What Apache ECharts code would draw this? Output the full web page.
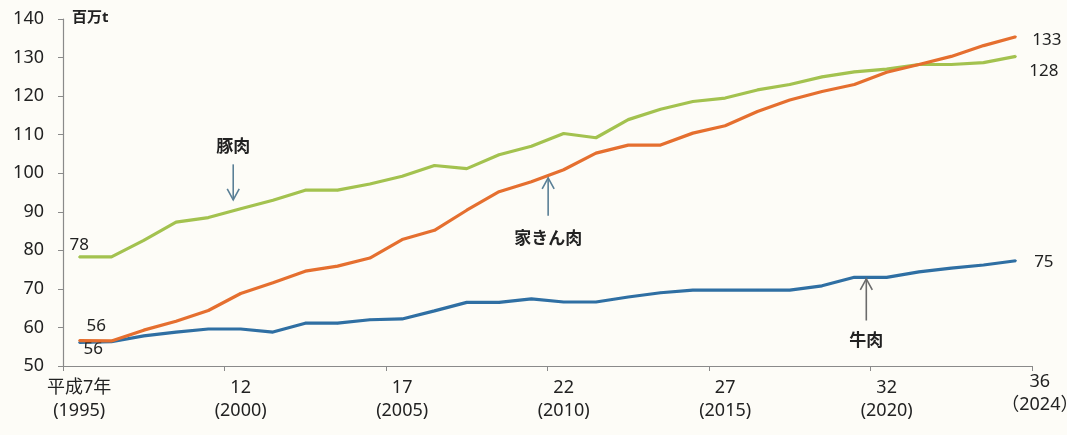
<!DOCTYPE html>
<html><head><meta charset="utf-8">
<script src="https://cdn.jsdelivr.net/npm/echarts@6/dist/echarts.min.js"></script>
<style>html,body{margin:0;padding:0;background:#fdfcf7}#c{width:1067px;height:435px}</style>
</head><body><div id="c"></div>
<script>
const years = ['1995','1996','1997','1998','1999','2000','2001','2002','2003','2004','2005','2006','2007','2008','2009','2010','2011','2012','2013','2014','2015','2016','2017','2018','2019','2020','2021','2022','2023','2024'];
const pork    = [78.3,78.3,82.6,87.3,88.5,90.8,93.0,95.6,95.6,97.2,99.2,102.0,101.2,104.8,107.0,110.3,109.2,113.9,116.6,118.6,119.5,121.6,123.0,125.0,126.3,127.0,128.2,128.2,128.7,130.3];
const poultry = [56.6,56.5,59.3,61.6,64.4,68.8,71.6,74.6,75.9,78.0,82.8,85.2,90.4,95.2,97.8,100.9,105.2,107.3,107.3,110.4,112.3,116.0,119.0,121.2,123.0,126.2,128.2,130.3,133.1,135.4];
const beef    = [56.1,56.3,57.8,58.8,59.6,59.6,58.8,61.1,61.1,62.0,62.2,64.3,66.5,66.5,67.4,66.6,66.6,67.9,69.0,69.7,69.7,69.7,69.7,70.8,73.0,73.0,74.4,75.4,76.2,77.3];
const seriesNames = ['豚肉','家きん肉','牛肉'];
const startLabels = ['78','56','56'];
const endLabels = ['128','133','75'];
const tickYears = ['1995','2000','2005','2010','2015','2020'];
const tickLabels = ['平成7年\n(1995)','12\n(2000)','17\n(2005)','22\n(2010)','27\n(2015)','32\n(2020)'];
const lastTickLabel = '36\n（2024）';
const yUnit = '百万t';
const yMin = 50, yMax = 140, yStep = 10;

const colors = ['#a3c24f','#e56f2f','#2f6fa3'];
const FONT = '"Noto Sans","Noto Sans CJK JP",sans-serif';
// label placement relative to the symbol box (pixels)
const startPos = [[1,-11],[18,-13],[15,8]];
const endPos = [[29,16],[32,4],[29,2]];
function mk(vals, si){
  return vals.map((v,i)=>{
    if(i===0) return {value:v, label:{show:true, formatter:startLabels[si], position:startPos[si], align:'center', verticalAlign:'middle'}};
    if(i===vals.length-1) return {value:v, label:{show:true, formatter:endLabels[si], position:endPos[si], align:'center', verticalAlign:'middle'}};
    return v;
  });
}
const chart = echarts.init(document.getElementById('c'));
const option = {
  backgroundColor:'#fdfcf7',
  animation:false,
  textStyle:{fontFamily:FONT},
  grid:{left:63, right:35, top:19, bottom:69},
  xAxis:{
    type:'category', data:years, boundaryGap:true,
    axisLine:{lineStyle:{color:'#8a8a8a', width:1.2}},
    axisTick:{show:true, length:5, interval:(i)=>i%5===0, lineStyle:{color:'#8a8a8a'}},
    axisLabel:{
      interval:(i,v)=>tickYears.indexOf(v)>=0,
      formatter:(v)=>{const k=tickYears.indexOf(v); return k>=0?tickLabels[k]:'';},
      color:'#222', fontSize:18, lineHeight:23, margin:10, fontFamily:FONT
    }
  },
  yAxis:{
    type:'value', min:yMin, max:yMax, interval:yStep,
    name:yUnit, nameLocation:'end', nameGap:1,
    nameTextStyle:{align:'left', verticalAlign:'middle', padding:[0,0,0,9], color:'#222', fontSize:15, fontWeight:'bold', fontFamily:FONT},
    axisLine:{show:true, lineStyle:{color:'#8a8a8a', width:1.2}},
    axisTick:{show:true, length:5, lineStyle:{color:'#8a8a8a'}},
    splitLine:{show:false},
    axisLabel:{color:'#222', fontSize:18, margin:19, fontFamily:FONT}
  },
  series:[pork,poultry,beef].map((d,si)=>({
    name:seriesNames[si], type:'line', data:mk(d,si),
    symbol:'circle', symbolSize:2, showSymbol:true, showAllSymbol:true,
    lineStyle:{color:colors[si], width:3.2}, itemStyle:{color:colors[si]},
    label:{show:false, color:'#222', fontSize:17, fontFamily:FONT},
    labelLayout:{hideOverlap:false},
    z:si===1?3:2
  }))
};
chart.setOption(option);

// annotations: text, category position (fractional index), arrow tip value, arrow tail value, text value, arrow color
const notes = [
  {text:'豚肉', pos:4.77, tip:93.1, tail:102.3, tv:107.2, color:'#5a7f96'},
  {text:'家きん肉', pos:14.52, tip:98.8, tail:89.0, tv:83.2, color:'#5a7f96'},
  {text:'牛肉', pos:24.37, tip:72.6, tail:61.8, tv:56.9, color:'#6b6b6b'}
];
function px(pos, val){
  const i0 = Math.floor(pos), f = pos - i0;
  const a = chart.convertToPixel({gridIndex:0},[i0, val]);
  const b = chart.convertToPixel({gridIndex:0},[i0+1, val]);
  return [a[0]+(b[0]-a[0])*f, a[1]];
}
const g = [];
notes.forEach(n=>{
  const t = px(n.pos, n.tip), s = px(n.pos, n.tail), tx = px(n.pos, n.tv);
  const dir = t[1] > s[1] ? -1 : 1;
  g.push({type:'polyline', shape:{points:[s,t]}, style:{stroke:n.color, lineWidth:1.6, fill:null}, z:10});
  g.push({type:'polyline', shape:{points:[[t[0]-6,t[1]+dir*11],t,[t[0]+6,t[1]+dir*11]]}, style:{stroke:n.color, lineWidth:1.6, fill:null}, z:10});
  g.push({type:'text', x:tx[0], y:tx[1], style:{text:n.text, fill:'#222', font:'bold 17px "Noto Sans CJK JP",sans-serif', align:'center', verticalAlign:'middle'}, z:10});
});
const lp = chart.convertToPixel({gridIndex:0},[years.length-1, yMin]);
g.push({type:'text', x:lp[0]+24, y:lp[1]+4, style:{text:lastTickLabel, fill:'#222', font:'18px "Noto Sans","Noto Sans CJK JP",sans-serif', lineHeight:23, align:'center', verticalAlign:'top'}, z:10});
chart.setOption({graphic:g});
</script>
</body></html>
